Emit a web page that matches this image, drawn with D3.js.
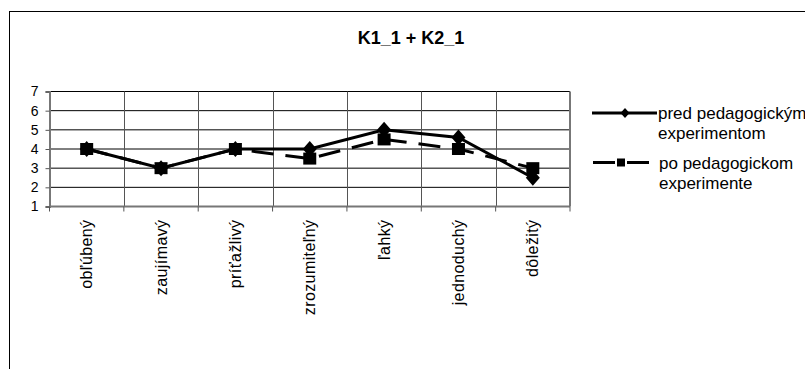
<!DOCTYPE html>
<html>
<head>
<meta charset="utf-8">
<script src="https://cdn.jsdelivr.net/npm/d3@7"></script>
<style>
  html, body { margin: 0; padding: 0; background: #fff; }
  svg { display: block; font-family: "Liberation Sans", Arial, sans-serif; }
</style>
</head>
<body>
<svg id="chart" width="805" height="369"></svg>
<script>
// Chart data
const title = "K1_1 + K2_1";
const categories = ["obľúbený", "zaujímavý", "príťažlivý", "zrozumiteľný", "ľahký", "jednoduchý", "dôležitý"];
const seriesNames = ["pred pedagogickým experimentom", "po pedagogickom experimente"];
const predValues = [4, 3, 4, 4, 5, 4.6, 2.5];
const poValues = [4, 3, 4, 3.5, 4.5, 4, 3];
const yTicks = [1, 2, 3, 4, 5, 6, 7];
const legendLines = [["pred pedagogickým", "experimentom"], ["po pedagogickom", "experimente"]];

const svg = d3.select("#chart");

// Outer chart frame (runs past the right and bottom edges of the view)
svg.append("rect")
  .attr("x", 9.5).attr("y", 11.5)
  .attr("width", 820).attr("height", 400)
  .attr("fill", "#fff").attr("stroke", "#000").attr("stroke-width", 1);

// Title
svg.append("text")
  .attr("x", 411).attr("y", 43.5)
  .attr("text-anchor", "middle")
  .attr("font-size", 18).attr("font-weight", "bold")
  .text(title);

const plot = { left: 49.5, right: 570, top: 91.5, bottom: 206.5 };

const x = d3.scaleBand().domain(categories).range([plot.left, plot.right]);
const y = d3.scaleLinear().domain([1, 7]).range([plot.bottom, plot.top]);

// Horizontal gridlines
svg.append("g").selectAll("line").data(yTicks.filter(v => v > 1)).join("line")
  .attr("x1", plot.left).attr("x2", plot.right)
  .attr("y1", d => y(d)).attr("y2", d => y(d))
  .attr("stroke", "#000").attr("stroke-width", 1);

// Vertical gridlines between categories
const bounds = categories.slice(1).map(c => x(c));
svg.append("g").selectAll("line").data(bounds).join("line")
  .attr("x1", d => Math.round(d) + 0.5).attr("x2", d => Math.round(d) + 0.5)
  .attr("y1", plot.top).attr("y2", plot.bottom)
  .attr("stroke", "#555").attr("stroke-width", 1);

// Right border of plot area
svg.append("line")
  .attr("x1", plot.right).attr("x2", plot.right)
  .attr("y1", plot.top).attr("y2", plot.bottom)
  .attr("stroke", "#777").attr("stroke-width", 2);

// Y axis
const yAxis = d3.axisLeft(y).tickValues(yTicks).tickSize(4).tickPadding(7).tickFormat(d3.format("d"));
const gy = svg.append("g").attr("transform", `translate(${plot.left},0)`).call(yAxis);
gy.select(".domain").attr("stroke", "#777").attr("stroke-width", 2);
gy.selectAll(".tick line").attr("stroke", "#555");
gy.selectAll(".tick text").attr("font-size", 14).attr("fill", "#000")
  .attr("font-family", "Liberation Sans, Arial, sans-serif");

// X axis with ticks at category boundaries
const gx = svg.append("g").attr("transform", `translate(0,${plot.bottom})`);
gx.append("line")
  .attr("x1", plot.left).attr("x2", plot.right)
  .attr("stroke", "#777").attr("stroke-width", 2);
const tickXs = [plot.left, ...bounds, plot.right];
gx.selectAll("line.tk").data(tickXs).join("line").attr("class", "tk")
  .attr("x1", d => d).attr("x2", d => d)
  .attr("y1", 0).attr("y2", 5)
  .attr("stroke", "#555").attr("stroke-width", 1);
gx.selectAll("text").data(categories).join("text")
  .attr("transform", d => `translate(${x(d) + x.bandwidth() / 2},13) rotate(-90)`)
  .attr("text-anchor", "end")
  .attr("dy", "0.35em")
  .attr("font-size", 16)
  .attr("letter-spacing", 0.4)
  .text(d => d);

// Series lines
const line = d3.line()
  .x((d, i) => x(categories[i]) + x.bandwidth() / 2)
  .y(d => y(d));

const diamond = (cx, cy, w, h) => `M${cx},${cy - h}L${cx + w},${cy}L${cx},${cy + h}L${cx - w},${cy}Z`;

// pred pedagogickým experimentom — solid with diamonds
svg.append("path").datum(predValues)
  .attr("d", line).attr("fill", "none")
  .attr("stroke", "#000").attr("stroke-width", 3);
svg.append("g").selectAll("path").data(predValues).join("path")
  .attr("d", (d, i) => diamond(x(categories[i]) + x.bandwidth() / 2, y(d), 7, 8))
  .attr("fill", "#000");

// po pedagogickom experimente — dashed with squares
svg.append("path").datum(poValues)
  .attr("d", line).attr("fill", "none")
  .attr("stroke", "#000").attr("stroke-width", 3)
  .attr("stroke-dasharray", "22,12");
svg.append("g").selectAll("rect").data(poValues).join("rect")
  .attr("x", (d, i) => x(categories[i]) + x.bandwidth() / 2 - 6.5)
  .attr("y", d => y(d) - 6)
  .attr("width", 13).attr("height", 12)
  .attr("fill", "#000");

// Legend
const legend = svg.append("g");
// entry 1
legend.append("line").attr("x1", 592).attr("x2", 657).attr("y1", 113).attr("y2", 113)
  .attr("stroke", "#000").attr("stroke-width", 3);
legend.append("path").attr("d", diamond(625, 113, 4.5, 5)).attr("fill", "#000");
// entry 2
legend.append("line").attr("x1", 593).attr("x2", 649).attr("y1", 162.5).attr("y2", 162.5)
  .attr("stroke", "#000").attr("stroke-width", 3).attr("stroke-dasharray", "22,12");
legend.append("rect").attr("x", 617).attr("y", 158.5).attr("width", 8).attr("height", 8).attr("fill", "#000");

const legendBase = [118.5, 168.5];
legendLines.forEach((lines, k) => {
  const tx = k === 0 ? 658 : 659;
  const t = legend.append("text").attr("font-size", 17).attr("x", tx);
  lines.forEach((s, j) => {
    t.append("tspan").attr("x", tx).attr("y", legendBase[k] + j * 20).text(s);
  });
});
</script>
</body>
</html>
